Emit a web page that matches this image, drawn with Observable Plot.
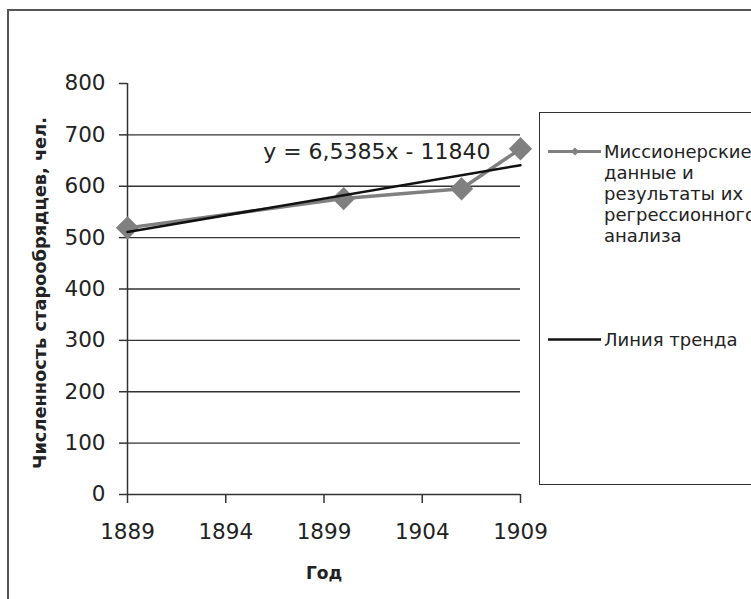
<!DOCTYPE html>
<html>
<head>
<meta charset="utf-8">
<script src="https://cdn.jsdelivr.net/npm/d3@7"></script>
<script src="https://cdn.jsdelivr.net/npm/@observablehq/plot@0.6"></script>
<style>
  html, body { margin: 0; padding: 0; background: #fff; }
  #wrap { position: relative; width: 751px; height: 599px; overflow: hidden; font-family: "DejaVu Sans", "Liberation Sans", Arial, sans-serif; color: #222; }
  #frame { position: absolute; left: 7px; top: 9px; width: 800px; height: 700px; border: 2px solid #555; box-sizing: border-box; }
  #chart { position: absolute; left: 0; top: 0; }
  #legend { position: absolute; left: 539px; top: 112px; width: 260px; height: 373px; border: 1.5px solid #333; box-sizing: border-box; background: #fff; }
  .item { position: absolute; left: 7px; display: flex; align-items: flex-start; font-size: 18px; line-height: 21px; }
  .item svg { flex: none; }
  .item span { white-space: pre; }
</style>
</head>
<body>
<div id="wrap">
  <div id="frame"></div>
  <div id="chart"></div>
  <div id="legend"></div>
</div>
<script>
// Data
const years = [1889, 1900, 1906, 1909];
const counts = [519, 576, 595, 673];
const trendYears = [1889, 1909];
const trendValues = [511, 641];
const yTicks = [0, 100, 200, 300, 400, 500, 600, 700, 800];
const gridValues = [100, 200, 300, 400, 500, 600, 700];
const xTicks = [1889, 1894, 1899, 1904, 1909];
const seriesNames = ["Миссионерские\nданные и\nрезультаты их\nрегрессионного\nанализа", "Линия тренда"];
const equationLabel = "y = 6,5385x - 11840";
const yTitle = "Численность старообрядцев, чел.";
const xTitle = "Год";

const data = years.map((x, i) => ({x, y: counts[i]}));
const trend = trendYears.map((x, i) => ({x, y: trendValues[i]}));

const chart = Plot.plot({
  width: 751,
  height: 599,
  marginLeft: 127,
  marginRight: 231,
  marginTop: 83,
  marginBottom: 105,
  x: {domain: [1889, 1909]},
  y: {domain: [0, 800]},
  style: {fontFamily: "'DejaVu Sans', sans-serif", fontSize: "21.5px", color: "#222", background: "transparent"},
  marks: [
    Plot.ruleY(gridValues, {stroke: "#333", strokeWidth: 1.3}),
    Plot.ruleY([0], {stroke: "#333", strokeWidth: 1.5}),
    Plot.ruleX([1889], {stroke: "#333", strokeWidth: 1.5}),
    Plot.axisY({ticks: yTicks, tickSize: 8, tickPadding: 14, label: null, stroke: "#333", strokeWidth: 1.5, tickFormat: d => String(d)}),
    Plot.axisX({ticks: xTicks, tickSize: 9, tickPadding: 20, label: null, stroke: "#333", strokeWidth: 1.5, tickFormat: d => String(d)}),
    Plot.line(data, {x: "x", y: "y", stroke: "#808080", strokeWidth: 3.5}),
    Plot.dot(data, {x: "x", y: "y", symbol: "diamond2", r: 10.5, fill: "#808080"}),
    Plot.line(trend, {x: "x", y: "y", stroke: "#111", strokeWidth: 2.5}),
    Plot.text([equationLabel], {frameAnchor: "top-right", dx: -30, dy: 68, fontSize: 22, fill: "#222", textAnchor: "end", lineAnchor: "middle"}),
    Plot.text([yTitle], {frameAnchor: "left", rotate: -90, dx: -87, dy: 4, fontSize: 17.8, fontWeight: "bold", fill: "#222", textAnchor: "middle", lineAnchor: "middle"}),
    Plot.text([xTitle], {frameAnchor: "bottom", dy: 79, fontSize: 17, fontWeight: "bold", fill: "#222", lineAnchor: "middle"})
  ]
});
document.getElementById("chart").appendChild(chart);

// Legend
const legend = document.getElementById("legend");
function addItem(top, name, kind) {
  const div = document.createElement("div");
  div.className = "item";
  div.style.top = top + "px";
  const svgNS = "http://www.w3.org/2000/svg";
  const svg = document.createElementNS(svgNS, "svg");
  svg.setAttribute("width", 57);
  svg.setAttribute("height", 21);
  const line = document.createElementNS(svgNS, "line");
  line.setAttribute("x1", 1); line.setAttribute("x2", 54);
  line.setAttribute("y1", 10.5); line.setAttribute("y2", 10.5);
  if (kind === "data") {
    line.setAttribute("stroke", "#808080"); line.setAttribute("stroke-width", 3);
    svg.appendChild(line);
    const p = document.createElementNS(svgNS, "path");
    p.setAttribute("d", "M28,6.5L32,10.5L28,14.5L24,10.5Z");
    p.setAttribute("fill", "#808080");
    svg.appendChild(p);
  } else {
    line.setAttribute("stroke", "#111"); line.setAttribute("stroke-width", 2.5);
    svg.appendChild(line);
  }
  div.appendChild(svg);
  const span = document.createElement("span");
  span.textContent = name;
  div.appendChild(span);
  legend.appendChild(div);
}
addItem(28, seriesNames[0], "data");
addItem(216, seriesNames[1], "trend");
</script>
</body>
</html>
